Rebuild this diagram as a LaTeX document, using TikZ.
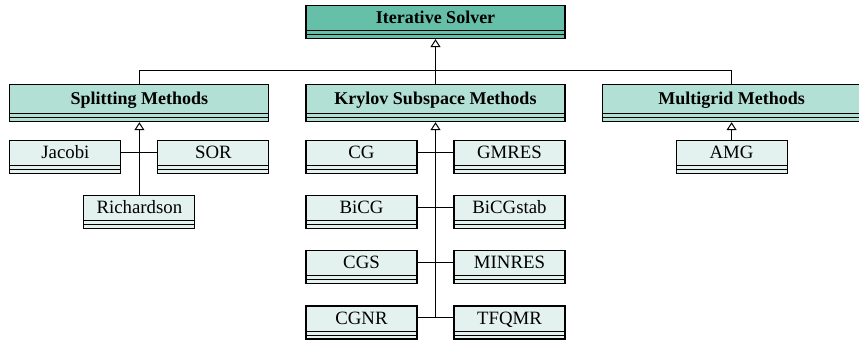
\documentclass[tikz,border=0pt]{standalone}
\usepackage{fontspec}
\setmainfont{Liberation Serif}
\usepackage{xcolor}
\usetikzlibrary{arrows.meta, positioning}
\definecolor{rootfill}{RGB}{102,191,168}
\definecolor{groupfill}{RGB}{179,224,212}
\definecolor{leaffill}{RGB}{227,242,238}
\tikzset{
  % class box: name part on top, two empty compartments below
  umlbox/.style={draw, line width=0.55pt, inner xsep=0pt, inner ysep=1pt,
    font=\fontsize{9.4}{11}\selectfont,
    path picture={
      \draw[line width=0.5pt] ([yshift=2pt]path picture bounding box.south west)
        -- ([yshift=2pt]path picture bounding box.south east);
      \draw[line width=0.5pt] ([yshift=4pt]path picture bounding box.south west)
        -- ([yshift=4pt]path picture bounding box.south east);
    }},
  rootclass/.style={umlbox, fill=rootfill, minimum width=129.5pt, text height=8pt, text depth=6.5pt,
    font=\fontsize{9}{11}\selectfont\bfseries},
  groupclass/.style={umlbox, fill=groupfill, minimum width=129.5pt, text height=9pt, text depth=7.5pt,
    font=\fontsize{9}{11}\selectfont\bfseries},
  leafclass/.style={umlbox, fill=leaffill, minimum width=55.5pt, text height=8pt, text depth=6.5pt},
  wire/.style={line width=0.5pt},
  extends/.style={wire, -{Triangle[open, length=4pt, width=5pt]}}
}

\begin{document}
\begin{tikzpicture}
  \useasboundingbox (0,0) rectangle (429.5pt,-173pt);
  % Nodes
	\node[rootclass, anchor=north] (Solver) at (217.75pt,-2.5pt) {Iterative Solver};
	\node[groupclass, below=22.5pt of Solver] (Krylov) {Krylov Subspace Methods};
	\node[groupclass, left=18pt of Krylov] (Splitting) {Splitting Methods};
	\node[groupclass, right=18pt of Krylov] (Multigrid) {Multigrid Methods};

	\node[leafclass, below right=9pt and 0pt of Splitting.south west] (Jacobi) {Jacobi};
	\node[leafclass, below left=9pt and 0pt of Splitting.south east] (SOR) {SOR};
	\node[leafclass, below=36.5pt of Splitting] (Richardson) {Richardson};

	\node[leafclass, below right=9pt and 0pt of Krylov.south west] (CG) {CG};
	\node[leafclass, below=10.5pt of CG] (BiCG) {BiCG};
	\node[leafclass, below=10.5pt of BiCG] (CGS) {CGS};
	\node[leafclass, below=10.5pt of CGS] (CGNR) {CGNR};
	\node[leafclass, below left=9pt and 0pt of Krylov.south east] (GMRES) {GMRES};
	\node[leafclass, below=10.5pt of GMRES] (BiCGstab) {BiCGstab};
	\node[leafclass, below=10.5pt of BiCGstab] (MINRES) {MINRES};
	\node[leafclass, below=10.5pt of MINRES] (TFQMR) {TFQMR};

	\node[leafclass, below=9pt of Multigrid] (AMG) {AMG};

  % Arrows (top level)
	\coordinate[above=7pt of Krylov.north] (bus);
	\draw[wire] (Splitting.north) |- (bus) -| (Multigrid.north);
	\draw[extends] (Krylov.north) -- (Solver.south);

  % Arrows (splitting methods)
	\draw[wire] ([yshift=-6.25pt]Jacobi.north east) -- ([yshift=-6.25pt]SOR.north west);
	\draw[extends] (Richardson.north) -- (Splitting.south);

  % Arrows (Krylov methods)
	\foreach \l/\r in {CG/GMRES, BiCG/BiCGstab, CGS/MINRES, CGNR/TFQMR}
	  \draw[wire] ([yshift=-6.25pt]\l.north east) -- ([yshift=-6.25pt]\r.north west);
	\coordinate (cgnrmid) at ([yshift=-6.25pt]CGNR.north east);
	\draw[extends] (Krylov.south |- cgnrmid) -- (Krylov.south);

  % Arrows (multigrid)
	\draw[extends] (AMG.north) -- (Multigrid.south);
\end{tikzpicture}
\end{document}
